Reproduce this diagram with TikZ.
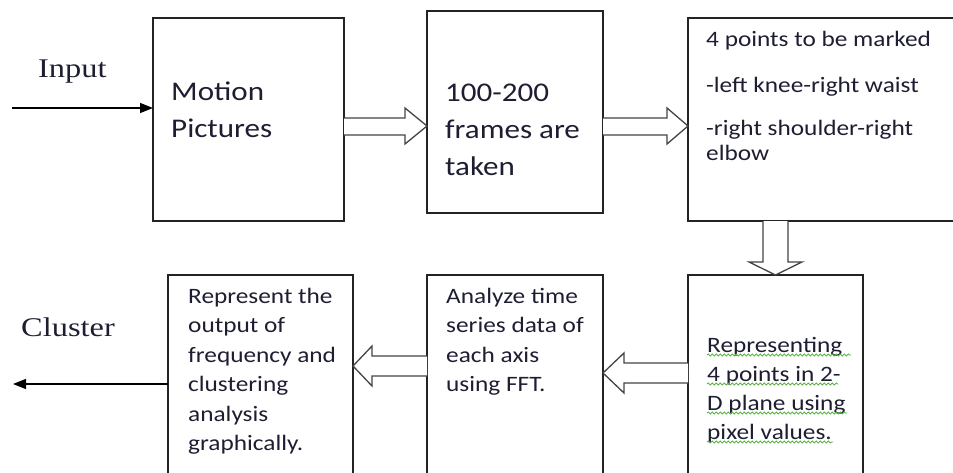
\documentclass[tikz,border=0pt]{standalone}
\usepackage{fontspec}
\setmainfont{Carlito}[FakeStretch=1.15]
\newfontfamily\labelfont{Liberation Serif}[FakeStretch=1.2]
\usetikzlibrary{arrows.meta,decorations.pathmorphing}
\definecolor{txt}{RGB}{30,30,50}
\definecolor{edge}{RGB}{35,35,35}
\definecolor{squig}{RGB}{90,180,70}
\tikzset{
  box/.style={draw=edge, line width=1.4pt, inner sep=0pt, outer sep=0pt, anchor=north west},
  bigtext/.style={anchor=base west, inner sep=0pt, align=left, text=txt, font=\fontsize{27}{37}\selectfont},
  smalltext/.style={anchor=base west, inner sep=0pt, align=left, text=txt, font=\fontsize{22}{29.5}\selectfont},
  hollow/.style={draw=edge!85, line width=1.3pt, fill=white, line join=miter},
  thin arrow/.style={draw=black, line width=1.3pt, -{Triangle[length=13pt,width=10pt]}},
  lbl/.style={anchor=base west, inner sep=0pt, text=txt, font=\labelfont\fontsize{27}{30}\selectfont},
  wavy/.style={draw=squig, line width=0.8pt, decorate, decoration={snake, segment length=4pt, amplitude=1.1pt}}
}
\begin{document}
\begin{tikzpicture}[x=1pt,y=-1pt]
\useasboundingbox (0,0) rectangle (953,472);
\clip (0,0) rectangle (953,472);
% boxes
\node[box, minimum width=191, minimum height=203] (b1) at (153,18) {};
\node[box, minimum width=176, minimum height=202] (b2) at (427,11) {};
\node[box, minimum width=320, minimum height=203] (b3) at (688,18) {};
\node[box, minimum width=185, minimum height=230] (b4) at (168,275) {};
\node[box, minimum width=176, minimum height=230] (b5) at (427,275) {};
\node[box, minimum width=175, minimum height=230] (b6) at (688,275) {};
% texts (base anchor = baseline of the last line)
\node[bigtext] (t1) at (171,137) {Motion\\Pictures};
\node[bigtext] (t2) at (445,175) {100-200\\frames are\\taken};
\node[smalltext, font=\fontsize{22}{25}\selectfont] (t3) at (706,160)
  {4 points to be marked\\[21pt]-left knee-right waist\\[18pt]-right shoulder-right\\elbow};
\node[smalltext] (t4) at (188,450.5) {Represent the\\output of\\frequency and\\clustering\\analysis\\graphically.};
\node[smalltext] (t5) at (446,391.5) {Analyze time\\series data of\\each axis\\using FFT.};
\node[smalltext, font=\fontsize{22}{29}\selectfont] (t6) at (707,439) {Representing\\4 points in 2-\\D plane using\\pixel values.};
% spell-check squiggles
\draw[wavy] (707,355) -- (851,355);
\draw[wavy] (707,384) -- (838,384);
\draw[wavy] (707,413) -- (847,413);
\draw[wavy] (707,442) -- (833,442);
% labels
\node[lbl] (lin) at (38,77) {Input};
\node[lbl] (lout) at (21,336) {Cluster};
% input / output arrows
\coordinate (in) at (12,108);
\draw[thin arrow] (in) -- (b1.west |- in);
\coordinate (out) at (13,384);
\draw[thin arrow] (b4.west |- out) -- (out);
% hollow arrows
\draw[hollow] (b1.east |- 0,118) -- (405,118) -- (405,108) -- (b2.west |- 0,126) -- (405,144) -- (405,135) -- (b1.east |- 0,135);
\draw[hollow] (b2.east |- 0,118) -- (667,118) -- (667,108) -- (b3.west |- 0,126) -- (667,144) -- (667,135) -- (b2.east |- 0,135);
\draw[hollow] (763,0 |- b3.south) -- (763,262) -- (749,262) -- (775.5,0 |- b6.north) -- (802,262) -- (788,262) -- (788,0 |- b3.south);
\draw[hollow] (b6.west |- 0,363) -- (624,363) -- (624,353) -- (b5.east |- 0,373) -- (624,393) -- (624,383) -- (b6.west |- 0,383);
\draw[hollow] (b5.west |- 0,356) -- (372,356) -- (372,346) -- (b4.east |- 0,366) -- (372,386) -- (372,376) -- (b5.west |- 0,376);
\end{tikzpicture}
\end{document}
